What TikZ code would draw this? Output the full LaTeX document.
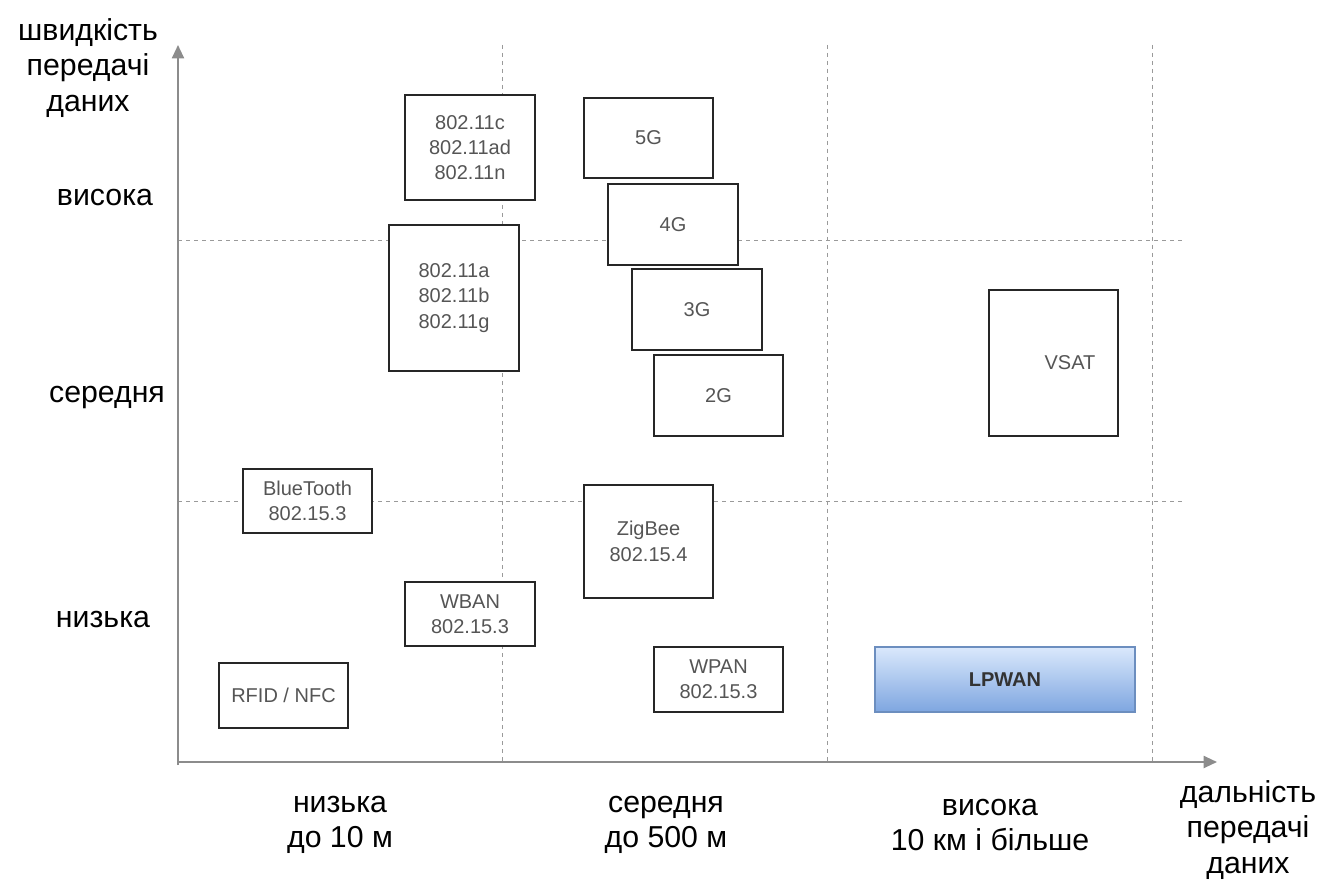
\documentclass[tikz,border=0pt]{standalone}
\usepackage{fontspec}
\setmainfont{Liberation Sans}
\usetikzlibrary{arrows.meta}
\definecolor{axisgray}{HTML}{8C8C8C}
\definecolor{gridgray}{HTML}{9A9A9A}
\definecolor{boxtext}{HTML}{555555}
\definecolor{lpfill1}{HTML}{DAE8FC}
\definecolor{lpfill2}{HTML}{7EA6E0}
\definecolor{lpdraw}{HTML}{6C8EBF}
\tikzset{
  tech/.style={draw=black!85, fill=white, line width=1.4pt, text=boxtext, align=center,
    font=\fontsize{15}{19}\selectfont, inner sep=0pt},
  grid line/.style={draw=gridgray, dashed, line width=0.7pt, dash pattern=on 3pt off 3pt},
  axis/.style={draw=axisgray, line width=1.5pt, -{Triangle[length=10pt,width=9pt]}},
  axlabel/.style={align=center, font=\fontsize{22.7}{26.3}\selectfont, text=black},
}
\begin{document}
\begin{tikzpicture}[x=0.75pt,y=-0.75pt]
\useasboundingbox (0,0) rectangle (1319,880);

% grid
\draw[grid line] (502,45) -- (502,762);
\draw[grid line] (827,45) -- (827,762);
\draw[grid line] (1152,45) -- (1152,762);
\draw[grid line] (178,240) -- (1185,240);
\draw[grid line] (178,501) -- (1185,501);

% axes
\coordinate (O) at (178,762);
\coordinate (ytip) at (178,45);
\coordinate (xtip) at (1217,762);
\draw[axis] (178,765) -- (ytip);
\draw[axis] (O) -- (xtip);

% technology boxes
\node[tech, minimum width=130*0.75pt, minimum height=105*0.75pt] (wifi1) at (470,147.5) {802.11c\\802.11ad\\802.11n};
\node[tech, minimum width=130*0.75pt, minimum height=146*0.75pt] (wifi2) at (454,298) {802.11a\\802.11b\\802.11g};
\node[tech, minimum width=129*0.75pt, minimum height=80*0.75pt] (g5) at (648.5,138) {5G};
\node[tech, minimum width=130*0.75pt, minimum height=81*0.75pt] (g4) at (673,224.5) {4G};
\node[tech, minimum width=130*0.75pt, minimum height=81*0.75pt] (g3) at (697,309.5) {3G};
\node[tech, minimum width=129*0.75pt, minimum height=81*0.75pt] (g2) at (718.5,395.5) {2G};
\node[tech, minimum width=129*0.75pt, minimum height=146*0.75pt] (vsat) at (1053.5,363) {};
\node[text=boxtext, font=\fontsize{15}{19}\selectfont] (vsatl) at (1070,363) {VSAT};
\node[tech, minimum width=129*0.75pt, minimum height=64*0.75pt] (bt) at (307.5,501) {BlueTooth\\802.15.3};
\node[tech, minimum width=129*0.75pt, minimum height=113*0.75pt] (zig) at (648.5,541.5) {ZigBee\\802.15.4};
\node[tech, minimum width=130*0.75pt, minimum height=64*0.75pt] (wban) at (470,614) {WBAN\\802.15.3};
\node[tech, minimum width=129*0.75pt, minimum height=65*0.75pt] (rfid) at (283.5,695.5) {RFID / NFC};
\node[tech, minimum width=129*0.75pt, minimum height=65*0.75pt] (wpan) at (718.5,679.5) {WPAN\\802.15.3};
\node[draw=lpdraw, line width=0.8pt, top color=lpfill1, bottom color=lpfill2,
  minimum width=260*0.75pt, minimum height=65*0.75pt, inner sep=0pt,
  font=\bfseries\fontsize{15}{19}\selectfont, text=black!80] (lpwan) at (1005,679.5) {LPWAN};

% axis labels
\node[axlabel] (ytitle) at (88,68) {швидкість\\передачі\\даних};
\node[axlabel] (yhigh) at (105,198) {висока};
\node[axlabel] (ymid) at (107,397) {середня};
\node[axlabel] (ylow) at (103,619) {низька};
\node[axlabel] (xlow) at (340,825) {низька\\до 10 м};
\node[axlabel] (xmid) at (666,825) {середня\\до 500 м};
\node[axlabel] (xhigh) at (990,825) {висока\\10 км і більше};
\node[axlabel] (xtitle) at (1248,830) {дальність\\передачі\\даних};
\end{tikzpicture}
\end{document}
